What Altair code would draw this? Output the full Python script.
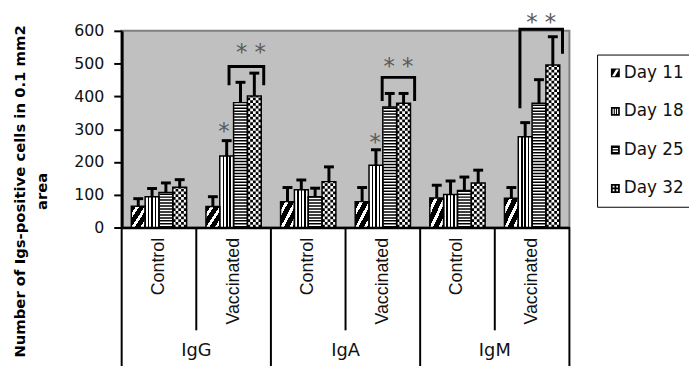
import altair as alt
import pandas as pd

immunoglobulins = ["IgG", "IgA", "IgM"]
treatments = ["Control", "Vaccinated"]
days = ["Day 11", "Day 18", "Day 25", "Day 32"]

igg_control = [65, 94, 107, 123]
igg_control_err = [23, 25, 29, 23]
igg_vaccinated = [64, 218, 381, 401]
igg_vaccinated_err = [30, 47, 62, 70]
iga_control = [79, 115, 94, 140]
iga_control_err = [43, 30, 26, 45]
iga_vaccinated = [79, 190, 368, 379]
iga_vaccinated_err = [43, 47, 41, 30]
igm_control = [90, 101, 113, 136]
igm_control_err = [39, 41, 41, 39]
igm_vaccinated = [89, 277, 379, 496]
igm_vaccinated_err = [33, 43, 72, 86]

# significance brackets (positions in bar units within the group, values on the y scale)
bracket_groups = ["IgG|Vaccinated", "IgA|Vaccinated", "IgM|Vaccinated"]
bracket_left = [1.67, 1.95, 1.12]
bracket_right = [4.18, 4.3, 4.2]
bracket_top = [491, 458, 605]
bracket_left_end = [434, 386, 364]
bracket_right_end = [434, 386, 530]

star_groups = ["IgG|Vaccinated", "IgA|Vaccinated", "IgG|Vaccinated", "IgA|Vaccinated", "IgM|Vaccinated"]
star_pos = [1.3, 1.45, 3.25, 3.13, 2.66]
star_y = [305, 273, 547, 503, 638]
star_text = ["*", "*", "* *", "* *", "* *"]

y_ticks = [0, 100, 200, 300, 400, 500, 600]

# ---------------------------------------------------------------- layout
W, H = 453, 199
BW = W / 6
P_OUT = 0.7
SUB = BW / (4 + 2 * P_OUT)

series = {
    ("IgG", "Control"): (igg_control, igg_control_err),
    ("IgG", "Vaccinated"): (igg_vaccinated, igg_vaccinated_err),
    ("IgA", "Control"): (iga_control, iga_control_err),
    ("IgA", "Vaccinated"): (iga_vaccinated, iga_vaccinated_err),
    ("IgM", "Control"): (igm_control, igm_control_err),
    ("IgM", "Vaccinated"): (igm_vaccinated, igm_vaccinated_err),
}
groups = [f"{ig}|{t}" for ig in immunoglobulins for t in treatments]

rows = []
for ig in immunoglobulins:
    for t in treatments:
        vals, errs = series[(ig, t)]
        for di, d in enumerate(days):
            rows.append(dict(group=f"{ig}|{t}", day=d, mean=vals[di],
                             upper=vals[di] + errs[di], u=di + 0.5, zero=0))
bars = pd.DataFrame(rows)

NCOL = 5
check_rows = []
for r in rows:
    if r["day"] == "Day 32":
        for k in range(NCOL):
            check_rows.append(dict(group=r["group"], mean=r["mean"], zero=0,
                                   u=3 + (k + 0.5) / NCOL, parity=k % 2))
checks = pd.DataFrame(check_rows)

br_rows = []
for i, g in enumerate(bracket_groups):
    pts = [(bracket_left[i], bracket_left_end[i]), (bracket_left[i], bracket_top[i]),
           (bracket_right[i], bracket_top[i]), (bracket_right[i], bracket_right_end[i])]
    for s, (u, yv) in enumerate(pts):
        br_rows.append(dict(bid=i, seq=s, group=g, u=u, y=yv))
brackets = pd.DataFrame(br_rows)

stars = pd.DataFrame(dict(group=star_groups, u=star_pos, y=star_y, text=star_text))

inner_sep = pd.DataFrame(dict(group=[f"{ig}|Vaccinated" for ig in immunoglobulins],
                              ig=immunoglobulins))
outer_sep = pd.DataFrame(dict(group=[f"{ig}|Control" for ig in immunoglobulins]))
end_sep = pd.DataFrame(dict(group=[groups[-1]]))

# ---------------------------------------------------------------- encodings
x_scale = alt.Scale(domain=groups, paddingInner=0, paddingOuter=0)
x_axis = alt.Axis(title=None, labelExpr="split(datum.label, '|')[1]", labelAngle=270,
                  labelFont="Liberation Sans", labelFontSize=18, labelColor="#111",
                  labelPadding=10, ticks=False, domainColor="black", domainWidth=2.5)
X = alt.X("group:N", scale=x_scale, axis=x_axis)

y_scale = alt.Scale(domain=[0, 600], nice=False)
y_axis = alt.Axis(values=y_ticks, grid=False, tickSize=8, tickWidth=2, tickColor="black",
                  domainColor="black", domainWidth=3, labelFont="DejaVu Sans",
                  labelFontSize=16, labelColor="#111", labelPadding=10,
                  title=["Number of Igs-positive cells in 0.1 mm2", "area"],
                  titleFont="DejaVu Sans", titleFontSize=15, titleFontWeight="bold",
                  titleColor="black", titleAngle=270, titleAlign="center",
                  titleBaseline="alphabetic", titleLineHeight=22,
                  titleX=-98, titleY=162)
Y_MEAN = alt.Y("mean:Q", scale=y_scale, axis=y_axis)

XOFF_DAY = alt.XOffset("day:N", scale=alt.Scale(domain=days, paddingInner=0, paddingOuter=P_OUT))
XOFF_U = alt.XOffset("u:Q", scale=alt.Scale(domain=[-P_OUT, 4 + P_OUT], range=[0, BW],
                                             nice=False, zero=False))


def stops(spec):
    out = []
    for a, b, c in spec:
        out.append(alt.GradientStop(color=c, offset=a))
        out.append(alt.GradientStop(color=c, offset=b))
    return out


diag = [(0, 0.17, "black"), (0.17, 0.29, "white"), (0.29, 0.49, "black"), (0.49, 0.61, "white"),
        (0.61, 0.81, "black"), (0.81, 0.92, "white"), (0.92, 1, "black")]
grad11 = alt.LinearGradient(gradient="linear", stops=stops(diag), x1=0, y1=0, x2=1, y2=1)
vert = [(0, 0.2, "white"), (0.2, 0.31, "black"), (0.31, 0.45, "white"), (0.45, 0.56, "black"),
        (0.56, 0.7, "white"), (0.7, 0.81, "black"), (0.81, 1, "white")]
grad18 = alt.LinearGradient(gradient="linear", stops=stops(vert), x1=0, y1=0, x2=1, y2=0)

base = alt.Chart(bars)

d11 = base.transform_filter(alt.datum.day == "Day 11").mark_bar(fill=grad11, strokeWidth=0).encode(
    x=X, xOffset=XOFF_DAY, y=Y_MEAN)
d18 = base.transform_filter(alt.datum.day == "Day 18").mark_bar(fill=grad18, strokeWidth=0).encode(
    x=X, xOffset=XOFF_DAY, y=Y_MEAN)
d2532 = base.transform_filter((alt.datum.day == "Day 25") | (alt.datum.day == "Day 32")).mark_bar(
    fill="white", strokeWidth=0).encode(x=X, xOffset=XOFF_DAY, y=Y_MEAN)

d25_lines = base.transform_filter(alt.datum.day == "Day 25").mark_rule(
    color="black", strokeWidth=SUB - 1, strokeDash=[1.5, 1.5]).encode(
    x=X, xOffset=XOFF_U, y=alt.Y("zero:Q", scale=y_scale, axis=y_axis), y2="mean:Q")

chk = alt.Chart(checks)
chk_even = chk.transform_filter(alt.datum.parity == 0).mark_rule(
    color="black", strokeWidth=SUB / NCOL, strokeDash=[2.8, 2.8]).encode(
    x=X, xOffset=XOFF_U, y=alt.Y("zero:Q", scale=y_scale, axis=y_axis), y2="mean:Q")
chk_odd = chk.transform_filter(alt.datum.parity == 1).mark_rule(
    color="black", strokeWidth=SUB / NCOL, strokeDash=[2.8, 2.8], strokeDashOffset=2.8).encode(
    x=X, xOffset=XOFF_U, y=alt.Y("zero:Q", scale=y_scale, axis=y_axis), y2="mean:Q")

outline = base.mark_bar(fill="white", fillOpacity=0, stroke="black", strokeWidth=1.5).encode(
    x=X, xOffset=XOFF_DAY, y=Y_MEAN)

err = base.mark_rule(color="black", strokeWidth=3).encode(
    x=X, xOffset=XOFF_U, y=Y_MEAN, y2="upper:Q")
caps = base.mark_tick(color="black", thickness=3, size=10, opacity=1).encode(
    x=X, xOffset=XOFF_U, y=alt.Y("upper:Q", scale=y_scale, axis=y_axis))

br = alt.Chart(brackets).mark_line(color="black", strokeWidth=3, strokeJoin="miter").encode(
    x=X, xOffset=XOFF_U, y=alt.Y("y:Q", scale=y_scale, axis=y_axis),
    detail="bid:N", order="seq:O")

st = alt.Chart(stars).mark_text(font="DejaVu Sans", fontSize=23, color="#5a5a5a",
                                baseline="alphabetic", dy=12).encode(
    x=X, xOffset=XOFF_U, y=alt.Y("y:Q", scale=y_scale, axis=y_axis), text="text:N")

sep_inner = alt.Chart(inner_sep).mark_rule(color="black", strokeWidth=2).encode(
    x=alt.X("group:N", scale=x_scale, axis=x_axis, bandPosition=0),
    y=alt.value(H), y2=alt.value(H + 104))
sep_outer = alt.Chart(outer_sep).mark_rule(color="black", strokeWidth=2).encode(
    x=alt.X("group:N", scale=x_scale, axis=x_axis, bandPosition=0),
    y=alt.value(H), y2=alt.value(H + 145))
sep_end = alt.Chart(end_sep).mark_rule(color="black", strokeWidth=2).encode(
    x=alt.X("group:N", scale=x_scale, axis=x_axis, bandPosition=1),
    y=alt.value(H), y2=alt.value(H + 145))
ig_labels = alt.Chart(inner_sep).mark_text(font="DejaVu Sans", fontSize=18, color="#111",
                                           baseline="middle").encode(
    x=alt.X("group:N", scale=x_scale, axis=x_axis, bandPosition=0),
    y=alt.value(H + 125), text="ig:N")

p_sq = "M-1,-1L1,-1L1,1L-1,1Z"


def hole(x0, y0, x1, y1):
    return f"M{x0},{y0}L{x0},{y1}L{x1},{y1}L{x1},{y0}Z"


sym11 = p_sq + "M0.15,-0.75L-0.75,0.75L-0.1,0.75L0.8,-0.75Z"
sym18 = p_sq + hole(-0.62, -0.6, -0.36, 0.6) + hole(-0.13, -0.6, 0.13, 0.6) + hole(0.36, -0.6, 0.62, 0.6)
sym25 = p_sq + hole(-0.6, -0.45, 0.6, -0.15) + hole(-0.6, 0.15, 0.6, 0.45)
sym32 = p_sq + hole(-0.6, -0.6, -0.2, -0.2) + hole(0.2, -0.6, 0.6, -0.2) + hole(-0.6, 0.2, -0.2, 0.6) + hole(0.2, 0.2, 0.6, 0.6)

legend_pts = base.mark_point(filled=True, color="black", opacity=0).encode(
    x=X, y=Y_MEAN,
    shape=alt.Shape("day:N", scale=alt.Scale(domain=days, range=[sym11, sym18, sym25, sym32]),
                    legend=alt.Legend(title=None, orient="none", legendX=481, legendY=24,
                                      direction="vertical", padding=10, rowPadding=21,
                                      strokeColor="black", fillColor="white",
                                      labelFont="DejaVu Sans", labelFontSize=17,
                                      labelColor="#111", labelOffset=0,
                                      labelExpr="datum.label + '\u2800'",
                                      symbolSize=81, symbolOpacity=1, symbolFillColor="black",
                                      symbolStrokeWidth=0)))

chart = alt.layer(
    d11, d18, d2532, d25_lines, chk_even, chk_odd, outline, err, caps, br, st,
    sep_inner, sep_outer, sep_end, ig_labels, legend_pts
).resolve_scale(xOffset="independent").properties(
    width=W, height=H,
    padding={"left": 115, "top": 21, "right": 121, "bottom": 138},
    autosize=alt.AutoSizeParams(type="none"),
).configure_view(fill="#c0c0c0", stroke="#808080", strokeWidth=2)

chart.save("out.html", embed_options={"renderer": "svg", "actions": False})
